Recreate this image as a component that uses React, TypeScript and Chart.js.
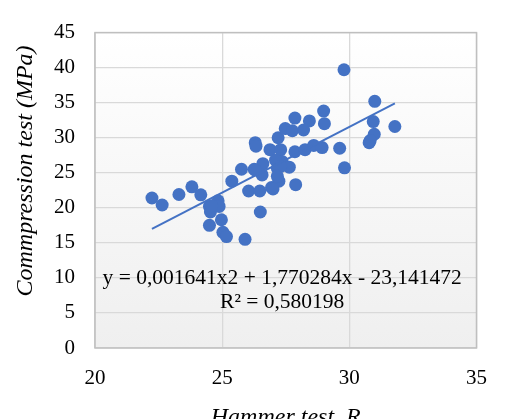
import React, { useEffect, useRef } from 'react';
import { Chart, registerables } from 'chart.js';

Chart.register(...registerables);

// Hammer test R (x) and compression test MPa (y)
const hammerR = [
  22.24, 22.64, 23.3, 23.81, 24.16, 24.5, 24.84, 24.54, 24.88, 24.5,
  24.97, 25.03, 25.17, 25.9, 25.38, 25.76, 26.04, 26.48, 26.26, 26.6,
  26.57, 26.5, 26.3, 26.33, 26.94, 27.23, 26.88, 27.3, 27.17, 27.36,
  27.64, 27.86, 27.89, 28.26, 28.6, 28.93, 29.62, 29.81, 30.78, 27.2,
  29.79, 31.0, 28.99, 27.86, 28.43, 29.02, 27.48, 27.76, 28.2, 30.94,
  31.79, 30.98, 30.82, 27.1, 27.3, 27.17, 26.29, 24.59, 27.0,
];
const compression = [
  21.4, 20.4, 21.9, 23.0, 21.85, 20.2, 21.0, 19.4, 20.2, 17.5,
  18.3, 16.5, 15.9, 15.5, 23.8, 25.5, 22.4, 22.4, 25.5, 26.3,
  24.7, 19.4, 29.3, 28.8, 22.9, 23.8, 28.3, 28.3, 25.65, 26.6,
  25.8, 28.0, 23.3, 28.3, 28.9, 28.6, 28.5, 25.7, 29.3, 30.0,
  39.7, 35.2, 33.8, 32.8, 32.4, 32.0, 31.3, 31.0, 31.1, 32.3,
  31.6, 30.5, 29.6, 26.8, 25.9, 24.5, 25.4, 20.3, 22.7,
];

// Trendline end points
const trendX = [22.24, 31.79];
const trendY = [17.0, 34.9];

const xTicks = [20, 25, 30, 35];
const yTicks = [0, 5, 10, 15, 20, 25, 30, 35, 40, 45];

const xTitle = 'Hammer test, R';
const yTitle = 'Commpression test (MPa)';
const equationText = 'y = 0,001641x2 + 1,770284x - 23,141472';
const r2Text = 'R² = 0,580198';
const labelPos = { x: 27.36, y: 10.0 };

const BLUE = '#4472C4';
const FONT = "'Liberation Serif', 'Times New Roman', serif";

export default function App() {
  const ref = useRef<HTMLCanvasElement | null>(null);

  useEffect(() => {
    document.body.style.margin = '0';
    const canvas = ref.current;
    if (!canvas) return;

    const bgPlugin = {
      id: 'bgPlugin',
      beforeDraw(chart: any) {
        const { ctx, chartArea: a } = chart;
        ctx.save();
        ctx.fillStyle = '#ffffff';
        ctx.fillRect(0, 0, chart.width, chart.height);
        const g = ctx.createLinearGradient(0, a.top, 0, a.bottom);
        g.addColorStop(0, '#ffffff');
        g.addColorStop(1, '#efefef');
        ctx.fillStyle = g;
        ctx.fillRect(a.left, a.top, a.right - a.left, a.bottom - a.top);
        ctx.restore();
      },
      afterDatasetsDraw(chart: any) {
        const { ctx, chartArea: a, scales } = chart;
        ctx.save();
        ctx.strokeStyle = '#bfbfbf';
        ctx.lineWidth = 1.5;
        ctx.strokeRect(a.left, a.top, a.right - a.left, a.bottom - a.top);
        const px = scales.x.getPixelForValue(labelPos.x);
        const py = scales.y.getPixelForValue(labelPos.y);
        ctx.fillStyle = '#000000';
        ctx.font = `21.5px ${FONT}`;
        ctx.textAlign = 'center';
        ctx.textBaseline = 'middle';
        ctx.fillText(equationText, px, py);
        ctx.fillText(r2Text, px, py + 24);
        // y axis title
        ctx.font = `italic 24px ${FONT}`;
        ctx.translate(26, 171);
        ctx.rotate(-Math.PI / 2);
        ctx.fillText(yTitle, 0, 0);
        ctx.restore();
      },
    };

    const chart = new Chart(canvas, {
      type: 'scatter',
      data: {
        datasets: [
          {
            type: 'line',
            label: 'Trend',
            data: trendX.map((x, i) => ({ x, y: trendY[i] })),
            borderColor: BLUE,
            borderWidth: 2,
            pointRadius: 0,
            fill: false,
            order: 0,
          } as any,
          {
            label: 'Data',
            data: hammerR.map((x, i) => ({ x, y: compression[i] })),
            backgroundColor: BLUE,
            borderWidth: 0,
            pointRadius: 6.5,
            order: 1,
          },
        ],
      },
      options: {
        animation: false,
        responsive: false,
        layout: { padding: { top: 24, right: 12.5, left: 0, bottom: 0 } },
        plugins: { legend: { display: false }, tooltip: { enabled: false } },
        scales: {
          x: {
            type: 'linear',
            min: 20,
            max: 35,
            afterFit: (s: any) => { s.height = 71; },
            afterBuildTicks: (s: any) => { s.ticks = xTicks.map((v) => ({ value: v })); },
            grid: { color: '#d9d9d9', lineWidth: 1.3, drawTicks: false },
            border: { display: false },
            ticks: { color: '#000', padding: 18, font: { family: FONT, size: 21 } },
            title: {
              display: true,
              text: xTitle,
              color: '#000',
              font: { family: FONT, size: 24, style: 'italic' },
              padding: { top: 0, bottom: -13 },
            },
          },
          y: {
            type: 'linear',
            min: 0,
            max: 45,
            afterFit: (s: any) => { s.width = 95; },
            afterBuildTicks: (s: any) => { s.ticks = yTicks.map((v) => ({ value: v })); },
            grid: { color: '#d9d9d9', lineWidth: 1.3, drawTicks: false },
            border: { display: false },
            ticks: { color: '#000', padding: 20, font: { family: FONT, size: 21 } },
            title: { display: false },
          },
        },
      },
      plugins: [bgPlugin],
    });

    return () => chart.destroy();
  }, []);

  return (
    <div style={{ width: 505, height: 419 }}>
      <canvas ref={ref} width={505} height={419} style={{ display: 'block' }} />
    </div>
  );
}
